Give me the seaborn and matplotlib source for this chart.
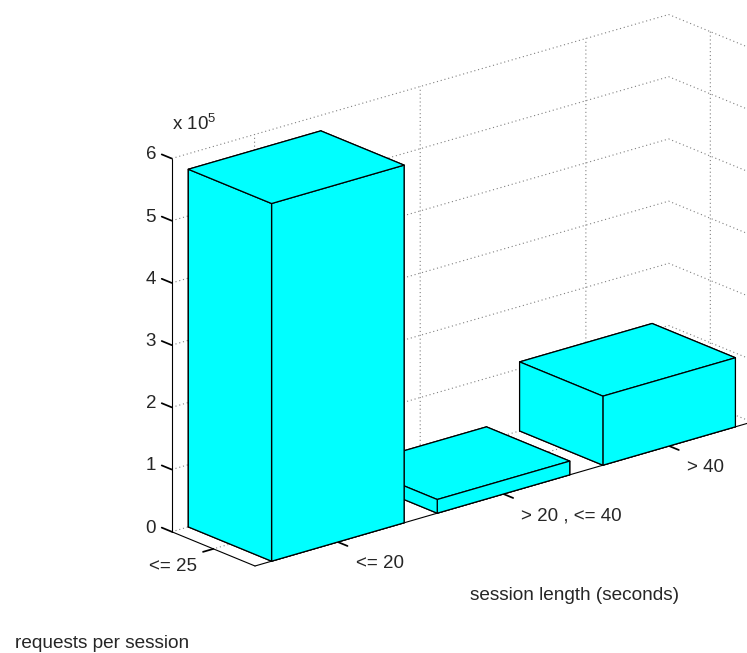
import matplotlib
matplotlib.use("Agg")
import matplotlib.pyplot as plt
import seaborn as sns
import numpy as np
from mpl_toolkits.mplot3d import proj3d

# one row (requests per session) x three columns (session length)
session_labels = ["<= 20", "> 20 , <= 40", "> 40"]
request_labels = ["<= 25"]
counts = [575000, 22000, 111000]
z_ticks = [0, 1, 2, 3, 4, 5, 6]

sns.set_theme(style="white")
plt.rcParams["font.family"] = ["Liberation Sans", "DejaVu Sans"]
plt.rcParams["mathtext.default"] = "regular"

W, H = 747, 653
fig = plt.figure(figsize=(W / 100, H / 100), dpi=100)
ax = fig.add_axes([0, 0, 1, 1], projection="3d", proj_type="ortho")
ax.view_init(elev=20.2, azim=-130)
ax.set_box_aspect((646, 129, 396))

n = len(counts)
xpos = np.arange(1, n + 1) - 0.4
ypos = np.ones(n) - 0.4
ax.bar3d(xpos, ypos, np.zeros(n), 0.8, 0.8, counts,
         color="#00ffff", edgecolor="black", linewidth=0.9, shade=False)

ax.set_xlim(0.5, n + 0.5)
ax.set_ylim(0.6, 1.4)
ax.set_zlim(0, 6e5)
ax.set_xticks(np.arange(1, n + 1))
ax.set_yticks([1])
ax.set_zticks(np.array(z_ticks) * 1e5)

ax.grid(True)
for axis in (ax.xaxis, ax.yaxis, ax.zaxis):
    # labels are written below as text, matlab style (beside the tick ends)
    axis.set_tick_params(labelbottom=False)
    axis.pane.set_facecolor((1, 1, 1, 0))
    axis.pane.set_edgecolor((1, 1, 1, 0))
    axis._axinfo["grid"].update(color="0.5", linestyle=(0, (1, 2.5)), linewidth=0.8)
    axis._axinfo["tick"]["inward_factor"] = 0.0
    axis.line.set_color("black")
    axis.line.set_linewidth(0.8)

# tick marks point out of the box like in matlab
ax.xaxis._get_tickdir = lambda *a: 1
ax.yaxis._get_tickdir = lambda *a: 0
ax.zaxis._get_tickdir = lambda *a: 1
ax.xaxis._axinfo["tick"]["outward_factor"] = -1.45
ax.yaxis._axinfo["tick"]["outward_factor"] = -0.26
ax.zaxis._axinfo["tick"]["outward_factor"] = 1.5
ax.tick_params(colors="black", width=0.8)

def to_px(x, y, z):
    xs, ys, _ = proj3d.proj_transform(x, y, z, ax.get_proj())
    return np.array(ax.transData.transform((xs, ys)))

# fit the projected box onto the reference corners
fig.canvas.draw()
p1 = to_px(0.5, 0.6, 0)
p2 = to_px(n + 0.5, 1.4, 6e5)
t1 = np.array([255, H - 566])
t2 = np.array([668, H - 14])
k = np.linalg.norm(t2 - t1) / np.linalg.norm(p2 - p1)
pos = ax.get_position()
c = np.array([(pos.x0 + pos.x1) / 2 * W, (pos.y0 + pos.y1) / 2 * H])
s = pos.width * W * k
c2 = t1 - k * (p1 - c)
ax.set_position([(c2[0] - s / 2) / W, (c2[1] - s / 2) / H, s / W, s / H])
fig.canvas.draw()

# tick labels, placed next to the projected tick positions
fs = 13.5
def label_at(x, y, z, txt, ha):
    px = to_px(x, y, z)
    fig.text(px[0] / W, px[1] / H, txt, ha=ha, va="center", fontsize=fs)

for i, lab in enumerate(session_labels):
    label_at(i + 1, 0.6 - 0.17, -0.23e5, lab, "left")
for i, lab in enumerate(request_labels):
    label_at(0.5 - 0.245, i + 1, -0.1e5, lab, "center")
for t in z_ticks:
    label_at(0.5, 1.4 + 0.2, t * 1e5 - 0.08e5, str(t), "center")

fig.text(575 / W, 1 - 596 / H, "session length (seconds)", ha="center", va="center", fontsize=13.7)
fig.text(102 / W, 1 - 644 / H, "requests per session", ha="center", va="center", fontsize=13.7)
fig.text(172 / W, 1 - 124 / H, "x 10$^5$", ha="left", va="center", fontsize=fs)

fig.savefig("out.png", dpi=100)
